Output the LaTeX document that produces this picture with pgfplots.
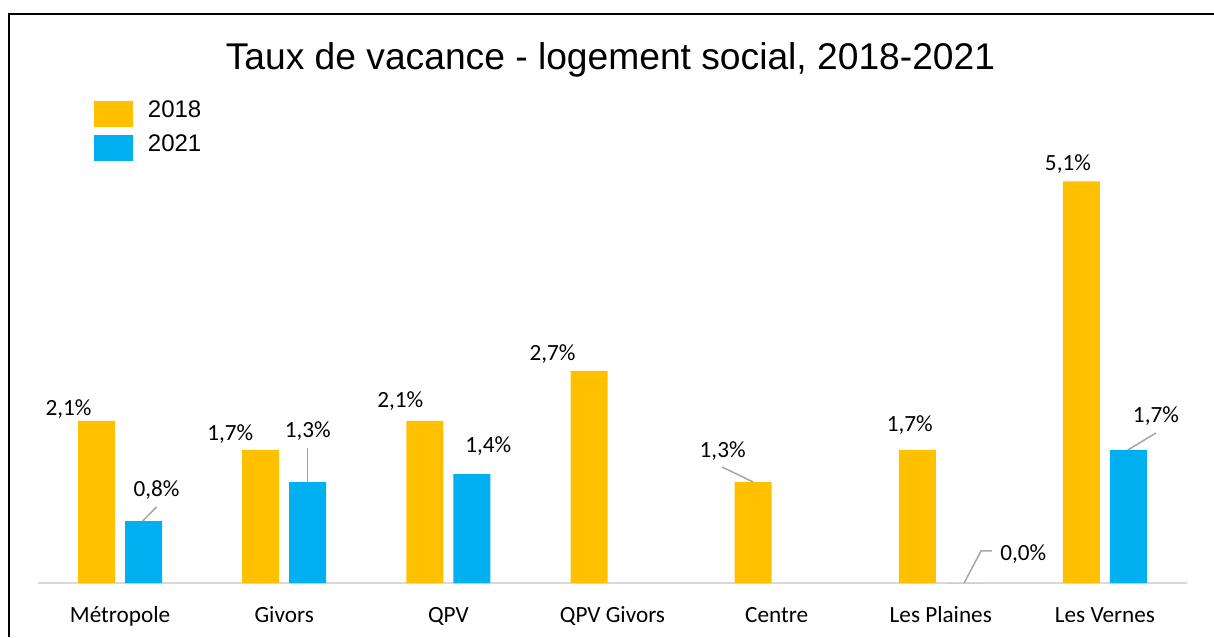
\documentclass[border=0pt]{standalone}
\usepackage{pgfplots}
\pgfplotsset{compat=1.18}
\usepackage{pgfplotstable}
\usepackage{fontspec}
\setmainfont{Carlito}
\newfontfamily\arial{Liberation Sans}
\definecolor{c18}{HTML}{FFC000}
\definecolor{c21}{HTML}{00B0F0}
\definecolor{axgray}{HTML}{D9D9D9}
\definecolor{leadgray}{HTML}{A6A6A6}

% x  value  label-dx(px)  label-dy(px)  label
\pgfplotstableread{
x y dx dy lab
0 2.07 -28 5 {2,1\%}
1 1.70 -30.5 9 {1,7\%}
2 2.07 -24.5 13 {2,1\%}
3 2.71 -36.5 10 {2,7\%}
4 1.29 -30.5 25 {1,3\%}
5 1.70 -7.5 18 {1,7\%}
6 5.13 -13.5 11 {5,1\%}
}\tabA
\pgfplotstableread{
x y dx dy lab
0 0.79 13 25 {0,8\%}
1 1.29 0 45 {1,3\%}
2 1.39 16.5 22 {1,4\%}
5 0.00 59 23 {0,0\%}
6 1.70 27.5 27 {1,7\%}
}\tabB

\pgfplotsset{
  labelled bars/.style={
    nodes near coords,
    point meta=explicit symbolic,
    visualization depends on={\thisrow{dx} \as \lblx},
    visualization depends on={\thisrow{dy} \as \lbly},
    every node near coord/.append style={anchor=base, inner sep=0pt,
      xshift={\lblx*0.5pt + #1}, yshift={\lbly*0.5pt},
      font=\fontsize{11.6}{14}\selectfont, text=black},
  },
  leader/.style={leadgray, line width=0.75pt, forget plot, no markers},
}

\begin{document}
\begin{tikzpicture}
\useasboundingbox (0,0) rectangle (607pt,318.5pt);
\draw[line width=1pt] (4.65pt,0) -- (4.65pt,311.5pt) -- (607pt,311.5pt);
\node[anchor=base, inner sep=0pt, font=\arial\fontsize{18.6}{22}\selectfont] at (305.25pt,283.85pt) {Taux de vacance - logement social, 2018-2021};
\begin{axis}[
  at={(19pt,27pt)}, anchor=south west,
  scale only axis, width=574.5pt, height=215.3pt,
  xmin=-0.5, xmax=6.5, ymin=0, ymax=5.5,
  clip=false,
  axis y line=none,
  axis x line=bottom,
  x axis line style={draw=axgray, line width=1pt, -},
  xtick={0,1,2,3,4,5,6},
  xticklabels={Métropole, Givors, QPV, QPV Givors, Centre, Les Plaines, Les Vernes},
  major tick length=0pt,
  xticklabel style={anchor=base, yshift=-19.65pt, inner sep=0pt, font=\fontsize{11.6}{14}\selectfont, text=black},
  legend style={at={(0.0487,1.119)}, anchor=north west, draw=none, fill=none,
    inner sep=0pt, outer sep=0pt, row sep=4pt, column sep=7.5pt,
    nodes={inner sep=0pt, yshift=1.6pt},
    font=\arial\fontsize{12}{14}\selectfont},
  legend cell align=left,
  legend image code/.code={\fill[#1] (0pt,-6.5pt) rectangle (19.5pt,6.5pt);},
]
\addplot[ybar, bar width=18.5pt, bar shift=-11.75pt, fill=c18, draw=none, labelled bars=-11.75pt]
  table[x=x, y=y, meta=lab] {\tabA};
\addplot[ybar, bar width=18.5pt, bar shift=11.75pt, fill=c21, draw=none, labelled bars=11.75pt]
  table[x=x, y=y, meta=lab] {\tabB};
\legend{2018, 2021}
\addplot[leader] coordinates {(0.137,0.79) (0.222,0.971)};
\addplot[leader] coordinates {(1.142,1.29) (1.142,1.724)};
\addplot[leader] coordinates {(3.857,1.29) (3.668,1.481)};
\addplot[leader] coordinates {(5.142,0) (5.245,0.409) (5.312,0.409)};
\addplot[leader] coordinates {(6.140,1.70) (6.311,1.916)};
\end{axis}
\end{tikzpicture}
\end{document}
